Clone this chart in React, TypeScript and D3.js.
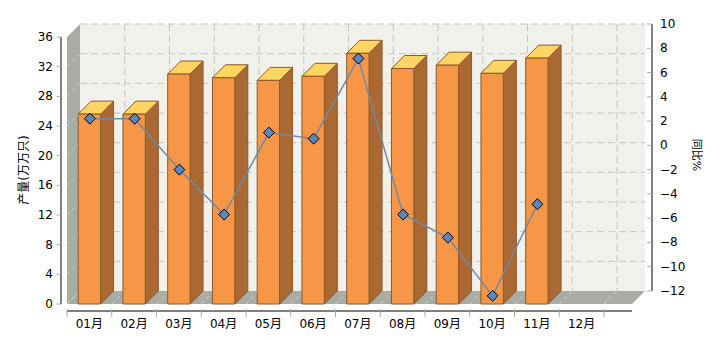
import React from "react";
import * as d3 from "d3";

const months = ["01月", "02月", "03月", "04月", "05月", "06月", "07月", "08月", "09月", "10月", "11月", "12月"];
const production = [25.6, 25.6, 31.0, 30.5, 30.15, 30.7, 33.8, 31.75, 32.2, 31.1, 33.15];
const yoy = [2.2, 2.2, -2.0, -5.7, 1.05, 0.55, 7.15, -5.7, -7.6, -12.4, -4.85];
const leftTicks = d3.range(0, 37, 4);
const rightTicks = d3.range(-12, 11, 2);
const leftTitle = "产量(万万只)";
const rightTitle = "同比%";

const W = 720, H = 340;
const D = 13; // depth
const FRONT_L = 67, FRONT_CAT_R = 604, FRONT_R = 632;
const FONT = "'DejaVu Sans', 'Noto Sans CJK SC', sans-serif";

export default function App() {
  const x = d3.scaleBand<string>().domain(months).range([FRONT_L, FRONT_CAT_R]);
  const bw = x.bandwidth();
  const yL = d3.scaleLinear().domain([0, 36]).range([304, 37]);
  const yR = d3.scaleLinear().domain([-12, 10]).range([291, 24]);
  const yBase = yL(0);
  const yTop = yL(36);

  const linePts: [number, number][] = yoy.map((v, i) => [x(months[i])! + bw / 2 + 0.5, yR(v)]);
  const line = d3.line();

  const wallGray = "#a9aca4";
  const backFill = "#f0f1eb";
  const gridCol = "#c4c4c0";

  const pts = (a: number[][]) => a.map((p) => p.join(",")).join(" ");

  return (
    <svg width={W} height={H} style={{ position: "absolute", left: 0, top: 0 }} fontFamily={FONT}>
      <rect width={W} height={H} fill="#fff" />
      {/* back wall */}
      <polygon points={pts([[FRONT_L + D, yTop - D], [FRONT_R + D, yTop - D], [FRONT_R + D, yBase - D], [FRONT_L + D, yBase - D]])} fill={backFill} />
      {/* left wall */}
      <polygon points={pts([[FRONT_L, yTop], [FRONT_L + D, yTop - D], [FRONT_L + D, yBase - D], [FRONT_L, yBase]])} fill={wallGray} />
      {/* floor */}
      <polygon points={pts([[FRONT_L, yBase], [FRONT_L + D, yBase - D], [FRONT_R + D, yBase - D], [FRONT_R, yBase]])} fill={wallGray} />
      {/* horizontal grid on back wall */}
      {leftTicks.map((t) => (
        <g key={"hg" + t}>
          {t > 0 && (
            <line x1={FRONT_L + D} x2={FRONT_R + D} y1={yL(t) - D} y2={yL(t) - D} stroke={gridCol} strokeDasharray="7,4" />
          )}
          <line x1={FRONT_L} x2={FRONT_L + D} y1={yL(t)} y2={yL(t) - D} stroke="#ffffff" strokeOpacity={0.45} strokeDasharray="4,3" />
        </g>
      ))}
      {/* vertical grid on back wall */}
      {months.map((m, i) => {
        const xx = (x(m) as number) + bw + D;
        return (
          <g key={"vg" + i}>
            <line x1={xx} x2={xx} y1={yTop - D} y2={yBase - D} stroke={gridCol} strokeDasharray="7,4" />
            <line x1={xx - D} x2={xx} y1={yBase} y2={yBase - D} stroke="#ffffff" strokeOpacity={0.45} strokeDasharray="4,3" />
          </g>
        );
      })}
      {/* bars */}
      {production.map((v, i) => {
        const x0 = (x(months[i]) as number) + bw * 0.25;
        const x1 = x0 + bw * 0.5;
        const yt = yL(v);
        return (
          <g key={"b" + i} stroke="#8a5a28" strokeWidth={1} strokeLinejoin="round">
            <polygon points={pts([[x1, yt], [x1 + D, yt - D], [x1 + D, yBase - D], [x1, yBase]])} fill="#aa6833" />
            <polygon points={pts([[x0, yt], [x0 + D, yt - D], [x1 + D, yt - D], [x1, yt]])} fill="#fdd562" />
            <rect x={x0} y={yt} width={x1 - x0} height={yBase - yt} fill="#f79646" />
          </g>
        );
      })}
      {/* line */}
      <path d={line(linePts) || ""} fill="none" stroke="#7189a8" strokeWidth={1.5} />
      {linePts.map(([px, py], i) => (
        <polygon key={"m" + i} points={pts([[px, py - 5.5], [px + 5.5, py], [px, py + 5.5], [px - 5.5, py]])} fill="#5a86bf" stroke="#000" strokeWidth={1} />
      ))}
      {/* left axis */}
      <line x1={61} x2={61} y1={yTop} y2={yBase} stroke="#000" />
      {leftTicks.map((t) => (
        <g key={"lt" + t}>
          <line x1={56.5} x2={61} y1={yL(t)} y2={yL(t)} stroke="#aaa" />
          <text x={53} y={yL(t)} textAnchor="end" dominantBaseline="central" fontSize={12} fill="#000">{t}</text>
        </g>
      ))}
      <text transform={`translate(24,${170}) rotate(-90)`} textAnchor="middle" dominantBaseline="central" fontSize={12}>{leftTitle}</text>
      {/* right axis */}
      <line x1={652} x2={652} y1={yR(10)} y2={yR(-12)} stroke="#000" />
      {rightTicks.map((t) => (
        <g key={"rt" + t}>
          <line x1={647} x2={652} y1={yR(t)} y2={yR(t)} stroke="#aaa" />
          <text x={660} y={yR(t)} textAnchor="start" dominantBaseline="central" fontSize={12} fill="#000">{d3.format("d")(t)}</text>
        </g>
      ))}
      <text transform={`translate(696,${155}) rotate(90)`} textAnchor="middle" dominantBaseline="central" fontSize={11}>{rightTitle}</text>
      {/* x axis */}
      <line x1={FRONT_L} x2={FRONT_R} y1={311} y2={311} stroke="#000" />
      {months.map((m, i) => (
        <line key={"xt" + i} x1={x(m)!} x2={x(m)!} y1={309} y2={317} stroke="#aaa" />
      ))}
      <line x1={FRONT_CAT_R} x2={FRONT_CAT_R} y1={309} y2={317} stroke="#aaa" />
      {months.map((m) => (
        <text key={"xl" + m} x={x(m)! + bw / 2} y={324} textAnchor="middle" dominantBaseline="central" fontSize={12}>{m}</text>
      ))}
    </svg>
  );
}
